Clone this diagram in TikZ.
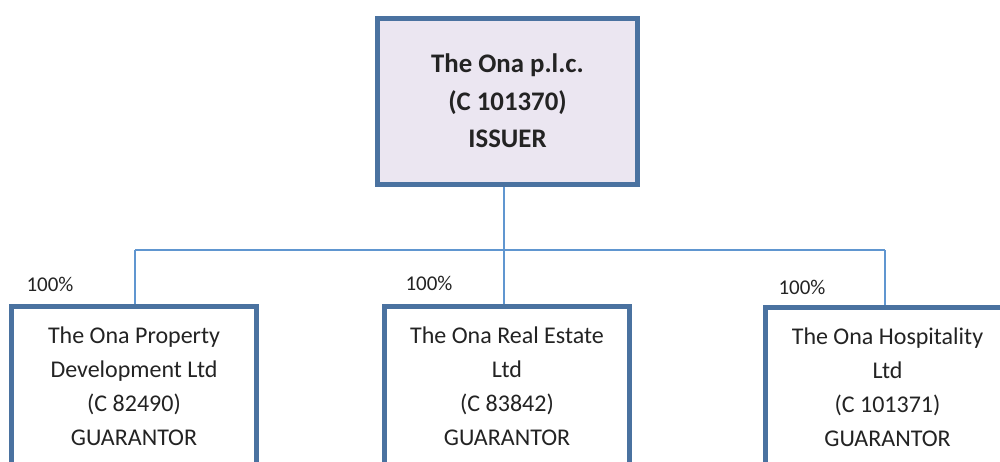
\documentclass[tikz,border=0pt]{standalone}
\usepackage{fontspec}
\setmainfont{Carlito}
\definecolor{boxborder}{RGB}{74,114,160}
\definecolor{boxfill}{RGB}{235,230,241}
\definecolor{linkblue}{RGB}{96,150,208}
\definecolor{txt}{RGB}{35,35,35}
\begin{document}
\begin{tikzpicture}[x=1pt,y=-1pt,
  topbox/.style={draw=boxborder,line width=5pt,fill=boxfill,rectangle,
    minimum width=260pt,minimum height=166pt,align=center,text=txt,
    font=\fontsize{26.8}{37.5}\selectfont\bfseries,inner sep=0pt},
  subbox/.style={draw=boxborder,line width=5pt,fill=white,rectangle,
    minimum width=245pt,minimum height=160pt,align=center,text=txt,
    font=\fontsize{24}{34}\selectfont,inner sep=0pt},
  pct/.style={text=txt,font=\fontsize{21}{25}\selectfont,inner sep=0pt},
  link/.style={draw=linkblue,line width=1.5pt}]
\useasboundingbox (0,0) rectangle (1000,461);
\clip (0,0) rectangle (1000,461);
\node[topbox] (top) at (507.5,101) {The Ona p.l.c.\\(C 101370)\\ISSUER};
\node[subbox] (b1) at (134,386) {The Ona Property\\Development Ltd\\(C 82490)\\GUARANTOR};
\node[subbox] (b2) at (507,386) {The Ona Real Estate\\Ltd\\(C 83842)\\GUARANTOR};
\node[subbox] (b3) at (887.5,387.5) {The Ona Hospitality\\Ltd\\(C 101371)\\GUARANTOR};
\node[pct] (p1) at (50,284) {100\%};
\node[pct] (p2) at (429,283) {100\%};
\node[pct] (p3) at (802,287) {100\%};
\coordinate (j) at (504,250);
\coordinate (jl) at (135,250);
\coordinate (jr) at (885,250);
\draw[link] (top.south -| j) -- (j);
\draw[link] (jl) -- (jr);
\draw[link] (jl) -- (jl |- b1.north);
\draw[link] (j) -- (j |- b2.north);
\draw[link] (jr) -- (jr |- b3.north);
\end{tikzpicture}
\end{document}
